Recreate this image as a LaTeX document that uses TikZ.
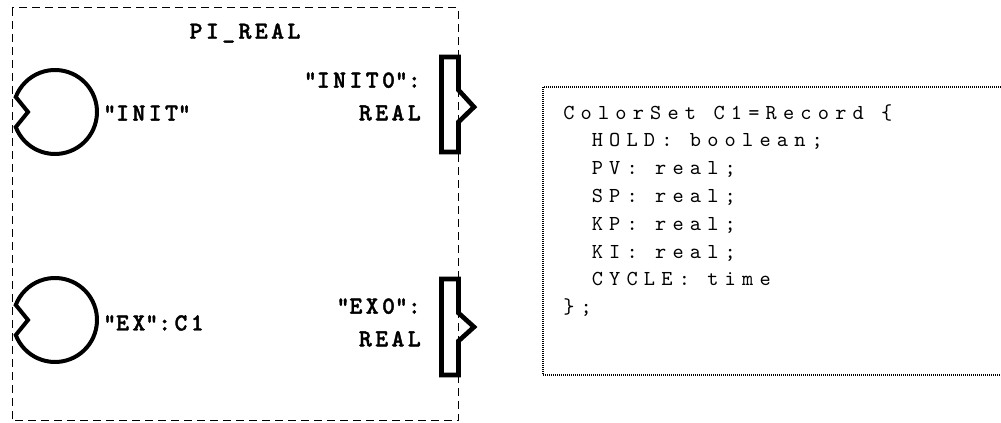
\documentclass[tikz,border=0pt]{standalone}
\usepackage{fontspec}
\newfontfamily\lblfont[Extension=.otf, LetterSpace=14, FakeBold=1.5]{lmmonolt10-bold}
\newfontfamily\codefont[Extension=.otf, LetterSpace=29]{lmmono10-regular}
\newcommand{\pq}{\textquotedbl}

\begin{document}
\begin{tikzpicture}[
    x=0.75pt, y=-0.75pt, line join=miter,
    frame/.style={draw, line width=0.75pt, dash pattern=on 6pt off 3.75pt},
    memo/.style={draw, line width=0.9pt, dash pattern=on 0.75pt off 0.75pt},
    place/.style={draw, line width=3pt},
    port/.style={draw, line width=3.5pt},
    lbl/.style={font=\lblfont\fontsize{18.4pt}{24.5pt}\selectfont, inner sep=0pt},
    code/.style={font=\codefont\fontsize{16pt}{20.85pt}\selectfont, inner sep=0pt, align=left}
]
\useasboundingbox (0,0) rectangle (1001,423);

% subpage frame
\draw[frame] (12,8) rectangle (458,421);
\node[lbl] (title) at (245,33) {PI\_REAL};

% input places
\draw[place] (55,112) ++(159:42) arc[start angle=159, end angle=-159, radius=42] -- (28,112) -- cycle;
\draw[place] (55,320) ++(159:42) arc[start angle=159, end angle=-159, radius=42] -- (28,320) -- cycle;

% output ports
\draw[port] (441.5,57) -- (458.5,57) -- (458.5,90) -- (474,107) -- (458.5,122) -- (458.5,152) -- (441.5,152) -- cycle;
\draw[port] (441.5,279) -- (458.5,279) -- (458.5,313) -- (474,327) -- (458.5,341) -- (458.5,375) -- (441.5,375) -- cycle;

\node[lbl, anchor=west] (initlbl) at (103,113) {\pq INIT\pq};
\node[lbl, anchor=east, align=right] (initout) at (421,96.5) {\pq INIT0\pq:\\REAL};
\node[lbl, anchor=west] (exlbl) at (103,323) {\pq EX\pq:C1};
\node[lbl, anchor=east, align=right] (exout) at (421,322.5) {\pq EX0\pq:\\REAL};

% colour set declaration
\draw[memo] (1001,87) -- (543,87) -- (543,375) -- (1001,375);
\node[code, anchor=north west] (colorset) at (563,104) {ColorSet C1=Record \{\\
    \phantom{xx}HOLD: boolean;\\
    \phantom{xx}PV: real;\\
    \phantom{xx}SP: real;\\
    \phantom{xx}KP: real;\\
    \phantom{xx}KI: real;\\
    \phantom{xx}CYCLE: time\\
    \};};

\end{tikzpicture}
\end{document}
